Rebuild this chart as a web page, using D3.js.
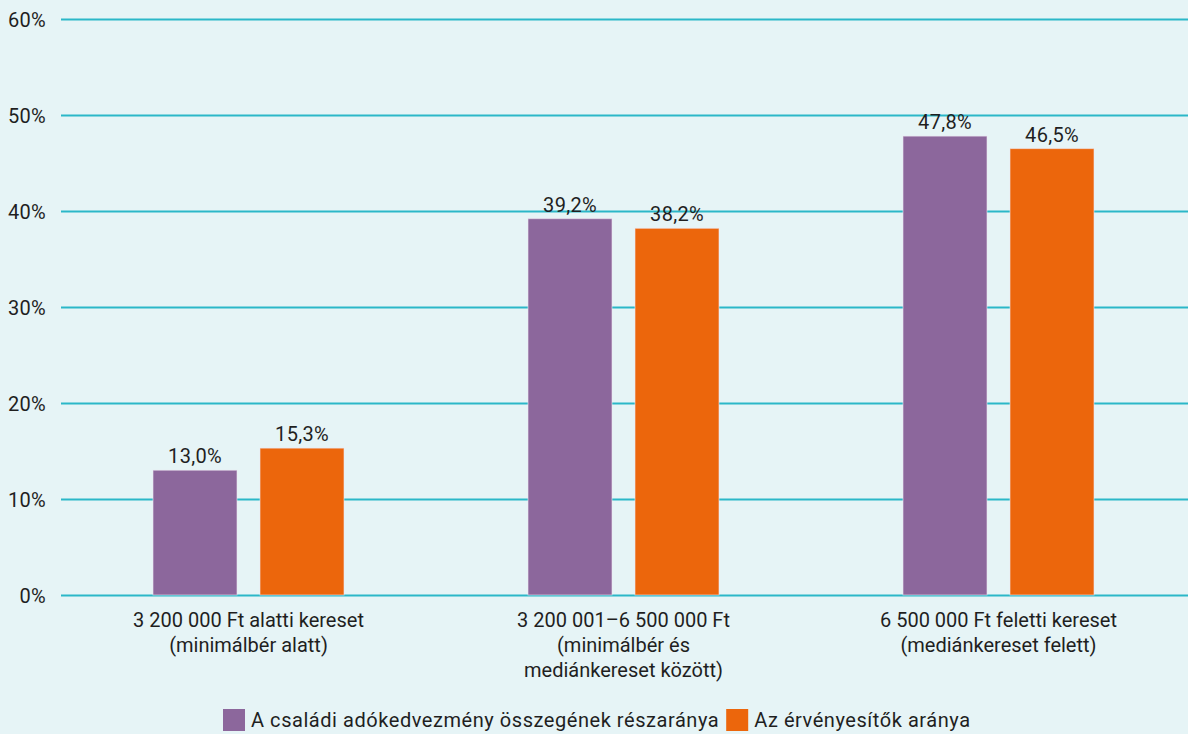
<!DOCTYPE html>
<html><head><meta charset="utf-8">
<script src="https://cdn.jsdelivr.net/npm/d3@7"></script>
<style>
html,body{margin:0;padding:0;background:#e6f4f6;}
svg{display:block;font-family:Roboto,"DejaVu Sans",sans-serif;}
</style></head>
<body>
<svg id="chart" width="1188" height="734"></svg>
<script>
const categories = [
  ["3 200 000 Ft alatti kereset", "(minimálbér alatt)"],
  ["3 200 001–6 500 000 Ft", "(minimálbér és", "mediánkereset között)"],
  ["6 500 000 Ft feletti kereset", "(mediánkereset felett)"]
];
const seriesNames = ["A családi adókedvezmény összegének részaránya", "Az érvényesítők aránya"];
const shareValues = [13.0, 39.2, 47.8];
const claimantValues = [15.3, 38.2, 46.5];
const yTicks = [0, 10, 20, 30, 40, 50, 60];
const colors = ["#8c679c", "#ec660c"];

const svg = d3.select("#chart");
const W = 1188, H = 734;
const m = {left: 61, right: 2, top: 19, bottom: 139};
const FS = 20;
const x0 = d3.scaleBand().domain(d3.range(categories.length)).range([m.left, W - m.right]).paddingInner(0).paddingOuter(0);
const y = d3.scaleLinear().domain([0, 60]).range([H - m.bottom, m.top]);
const barW = 84, gap = 23;
const x1 = d3.scaleOrdinal().domain([0, 1]).range([-(gap / 2 + barW), gap / 2]);

svg.append("rect").attr("width", W).attr("height", H).attr("fill", "#e6f4f6");

// gridlines
const yAxis = d3.axisLeft(y).tickValues(yTicks).tickFormat(d => d + "%").tickSize(-(W - m.left)).tickPadding(14);
const ga = svg.append("g").attr("transform", `translate(${m.left},0)`).call(yAxis);
ga.select(".domain").remove();
ga.selectAll(".tick line").attr("stroke", "#2bb7c8").attr("stroke-width", 2);
ga.selectAll(".tick text").attr("fill", "#1f1f1f").attr("font-size", FS).attr("x", -15).attr("dy", "0.36em")
  .attr("font-family", "Roboto, sans-serif").style("letter-spacing", "0.3px");

const series = [shareValues, claimantValues];
const data = [];
series.forEach((vals, si) => vals.forEach((v, ci) => data.push({si, ci, v})));

const bars = svg.append("g");
bars.selectAll("rect").data(data).join("rect")
  .attr("x", d => x0(d.ci) + x0.bandwidth() / 2 + x1(d.si))
  .attr("y", d => y(d.v))
  .attr("width", barW)
  .attr("height", d => y(0) - y(d.v))
  .attr("fill", d => colors[d.si])
  .attr("stroke", "#f0e8f2").attr("stroke-width", 1).attr("stroke-opacity", 0.6);

bars.selectAll("text").data(data).join("text")
  .attr("x", d => x0(d.ci) + x0.bandwidth() / 2 + x1(d.si) + barW / 2)
  .attr("y", d => y(d.v) - 7)
  .attr("text-anchor", "middle")
  .attr("font-size", FS).attr("fill", "#1f1f1f").style("letter-spacing", "0.3px")
  .text(d => d.v.toFixed(1).replace(".", ",") + "%");

// category labels
const cl = svg.append("g");
categories.forEach((lines, ci) => {
  const cx = x0(ci) + x0.bandwidth() / 2;
  const t = cl.append("text").attr("x", cx).attr("y", 627)
    .attr("text-anchor", "middle").attr("font-size", FS).attr("fill", "#1f1f1f");
  lines.forEach((ln, i) => t.append("tspan").attr("x", cx).attr("dy", i === 0 ? 0 : 25).text(ln));
});

// legend
const lg = svg.append("g").attr("transform", "translate(223,709)");
let lx = 0;
seriesNames.forEach((name, i) => {
  const g = lg.append("g").attr("transform", `translate(${lx},0)`);
  g.append("rect").attr("width", 22).attr("height", 22).attr("fill", colors[i]);
  const t = g.append("text").attr("x", 28).attr("y", 18).attr("font-size", FS).attr("fill", "#1f1f1f")
    .style("letter-spacing", "0.55px").text(name);
  lx += 28 + t.node().getComputedTextLength() + 7;
});
</script>
</body></html>
